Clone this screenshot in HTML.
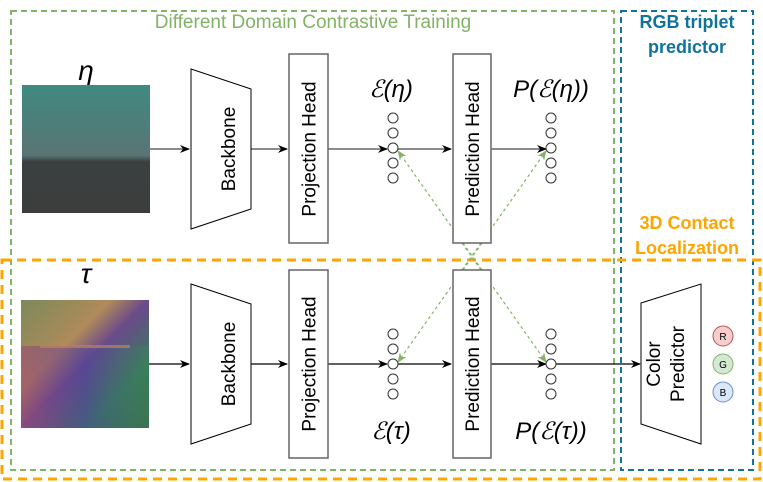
<!DOCTYPE html>
<html><head><meta charset="utf-8"><style>body{margin:0;background:#fff}svg{display:block}text{font-family:"Liberation Sans",sans-serif}</style></head><body>
<svg width="763" height="482" viewBox="0 0 763 482" xmlns="http://www.w3.org/2000/svg">
<defs>
<marker id="a" markerWidth="10" markerHeight="8" refX="9" refY="4" orient="auto" markerUnits="userSpaceOnUse"><path d="M0,0L10,4L0,8L3,4Z" fill="#000"/></marker>
<marker id="g" markerWidth="10" markerHeight="8" refX="9" refY="4" orient="auto" markerUnits="userSpaceOnUse"><path d="M0,0L10,4L0,8L3,4Z" fill="#82b366"/></marker>
<linearGradient id="t1" x1="0" y1="0" x2="0" y2="1"><stop offset="0" stop-color="#3f8a80"/><stop offset="0.55" stop-color="#5a7474"/><stop offset="0.6" stop-color="#3a4040"/><stop offset="1" stop-color="#3c3d3d"/></linearGradient>
<linearGradient id="t2" x1="0" y1="0" x2="1" y2="1"><stop offset="0" stop-color="#7a8a5a"/><stop offset="0.35" stop-color="#b08a5a"/><stop offset="0.5" stop-color="#6a4a8a"/><stop offset="0.75" stop-color="#3a7a5a"/><stop offset="1" stop-color="#3a6a4a"/></linearGradient>
<linearGradient id="t3" x1="0" y1="0" x2="1" y2="0"><stop offset="0" stop-color="#a04a70" stop-opacity="0.6"/><stop offset="0.5" stop-color="#4a40a0" stop-opacity="0.5"/><stop offset="1" stop-color="#3a8a5a" stop-opacity="0.3"/></linearGradient>
</defs>
<rect x="11" y="11" width="603" height="459" fill="none" stroke="#82b366" stroke-width="2" stroke-dasharray="6,4"/>
<rect x="621" y="11" width="132" height="459" fill="none" stroke="#10739e" stroke-width="2" stroke-dasharray="6,4"/>
<rect x="2" y="260" width="758" height="219" fill="none" stroke="#ffa500" stroke-width="3" stroke-dasharray="9,6"/>
<text x="313" y="28" font-size="19" fill="#82b366" text-anchor="middle">Different Domain Contrastive Training</text>
<text x="687" y="28" font-size="18" fill="#10739e" text-anchor="middle" font-weight="bold">RGB triplet</text>
<text x="687" y="53" font-size="18" fill="#10739e" text-anchor="middle" font-weight="bold">predictor</text>
<text x="687" y="229" font-size="18" fill="#ffa500" text-anchor="middle" font-weight="bold">3D Contact</text>
<text x="687" y="254" font-size="18" fill="#ffa500" text-anchor="middle" font-weight="bold">Localization</text>
<text x="86" y="80" font-size="28" font-style="italic" text-anchor="middle" font-family="Liberation Serif">η</text>
<text x="86" y="283" font-size="28" font-style="italic" text-anchor="middle" font-family="Liberation Serif">τ</text>
<rect x="22" y="85" width="128" height="128" fill="url(#t1)"/>
<rect x="21" y="300" width="128" height="128" fill="url(#t2)"/>
<rect x="21" y="346" width="128" height="82" fill="url(#t3)"/>
<rect x="40" y="345" width="90" height="3" fill="#c08060" opacity="0.7"/>
<g stroke="#666" stroke-width="1.5" fill="none"><path d="M150,149H189" marker-end="url(#a)"/><path d="M251,149H287" marker-end="url(#a)"/><path d="M328,149H387" marker-end="url(#a)"/><path d="M398,149H451" marker-end="url(#a)"/><path d="M491,149H546" marker-end="url(#a)"/></g>
<g stroke="#000" stroke-width="1.2" fill="none"><path d="M149,364H189" marker-end="url(#a)"/><path d="M251,364H287" marker-end="url(#a)"/><path d="M328,364H387" marker-end="url(#a)"/><path d="M398,364H451" marker-end="url(#a)"/><path d="M491,364H546" marker-end="url(#a)"/><path d="M556,364H640" marker-end="url(#a)"/></g>
<g stroke="#82b366" stroke-width="1.2" stroke-dasharray="3,3" fill="none">
<path d="M482,270L398,151" marker-end="url(#g)"/>
<path d="M462,270L546,151" marker-end="url(#g)"/>
<path d="M482,243L398,362" marker-end="url(#g)"/>
<path d="M462,243L546,362" marker-end="url(#g)"/>
</g>
<g stroke="#000" fill="#fff" stroke-width="1"><path d="M191,69L251,89V209L191,229Z"/><path d="M191,284L251,304V424L191,444Z"/><path d="M641,303L701,284V444L641,424Z"/></g>
<g stroke="#666" fill="#fff" stroke-width="1.5"><rect x="289" y="54" width="39" height="189"/><rect x="453" y="54" width="38" height="189"/><rect x="289" y="270" width="39" height="188"/><rect x="453" y="270" width="38" height="188"/></g>
<g font-size="19" text-anchor="middle">
<text transform="translate(228,149) rotate(-90)" y="7">Backbone</text>
<text transform="translate(228,364) rotate(-90)" y="7">Backbone</text>
<text transform="translate(308.5,149) rotate(-90)" y="7">Projection Head</text>
<text transform="translate(308.5,364) rotate(-90)" y="7">Projection Head</text>
<text transform="translate(472,149) rotate(-90)" y="7">Prediction Head</text>
<text transform="translate(472,364) rotate(-90)" y="7">Prediction Head</text>
<text transform="translate(664,364) rotate(-90)" y="-4">Color</text>
<text transform="translate(664,364) rotate(-90)" y="20">Predictor</text>
</g>
<g stroke="#333" fill="#fff" stroke-width="1">
<circle cx="393" cy="118" r="5"/><circle cx="393" cy="133" r="5"/><circle cx="393" cy="148" r="5"/><circle cx="393" cy="163" r="5"/><circle cx="393" cy="178" r="5"/>
<circle cx="551" cy="118" r="5"/><circle cx="551" cy="133" r="5"/><circle cx="551" cy="148" r="5"/><circle cx="551" cy="163" r="5"/><circle cx="551" cy="178" r="5"/>
<circle cx="393" cy="334" r="5"/><circle cx="393" cy="349" r="5"/><circle cx="393" cy="364" r="5"/><circle cx="393" cy="379" r="5"/><circle cx="393" cy="394" r="5"/>
<circle cx="551" cy="334" r="5"/><circle cx="551" cy="349" r="5"/><circle cx="551" cy="364" r="5"/><circle cx="551" cy="379" r="5"/><circle cx="551" cy="394" r="5"/>
</g>
<g font-family="Liberation Serif" font-style="italic" font-size="24" text-anchor="middle">
<text x="391" y="97">ℰ(η)</text><text x="551" y="97">P(ℰ(η))</text>
<text x="391" y="439">ℰ(τ)</text><text x="551" y="439">P(ℰ(τ))</text>
</g>
<circle cx="723" cy="336" r="10" fill="#f8cecc" stroke="#b85450"/><circle cx="723" cy="364" r="10" fill="#d5e8d4" stroke="#82b366"/><circle cx="723" cy="392" r="10" fill="#dae8fc" stroke="#6c8ebf"/>
<g font-size="10" text-anchor="middle"><text x="723" y="340">R</text><text x="723" y="368">G</text><text x="723" y="396">B</text></g>
</svg>
</body></html>
